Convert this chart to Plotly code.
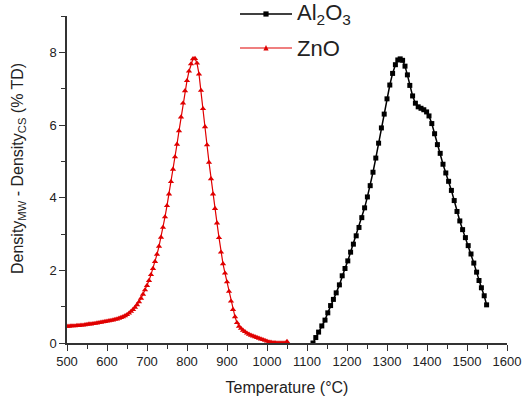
import plotly.graph_objects as go

# ZnO series (temperature in °C, density difference in % TD)
zno_t = [500, 505, 510, 515, 520, 525, 530, 535, 540, 545, 550, 555, 560, 565, 570, 575, 580, 585, 590, 595,
         600, 605, 610, 615, 620, 625, 630, 635, 640, 645, 650, 655, 660, 665, 670, 675, 680, 685, 690, 695,
         700, 705, 710, 715, 720, 725, 730, 735, 740, 745, 750, 755, 760, 765, 770, 775, 780, 785, 790, 795,
         800, 805, 810, 815, 820, 825, 830, 835, 840, 845, 850, 855, 860, 865, 870, 875, 880, 885, 890, 895,
         900, 905, 910, 915, 920, 925, 930, 935, 940, 945, 950, 955, 960, 965, 970, 975, 980, 985, 990, 995,
         1000, 1005, 1010, 1015, 1020, 1025, 1030, 1035, 1040, 1045, 1050]
zno_d = [0.46, 0.46, 0.47, 0.47, 0.47, 0.48, 0.48, 0.49, 0.49, 0.50, 0.51, 0.52, 0.52, 0.53, 0.54, 0.55, 0.56, 0.57, 0.58, 0.59,
         0.60, 0.61, 0.62, 0.63, 0.65, 0.66, 0.68, 0.70, 0.72, 0.75, 0.78, 0.82, 0.87, 0.92, 0.98, 1.05, 1.13, 1.23, 1.34, 1.46,
         1.58, 1.72, 1.88, 2.05, 2.24, 2.44, 2.66, 2.91, 3.18, 3.47, 3.78, 4.10, 4.44, 4.78, 5.12, 5.47, 5.84, 6.22, 6.60, 6.94,
         7.22, 7.48, 7.68, 7.82, 7.83, 7.70, 7.40, 6.95, 6.45, 5.95, 5.45, 4.97, 4.52, 4.10, 3.70, 3.30, 2.90, 2.50, 2.18, 1.92,
         1.68, 1.42, 1.15, 0.92, 0.72, 0.56, 0.46, 0.40, 0.35, 0.31, 0.27, 0.24, 0.21, 0.19, 0.17, 0.15, 0.13, 0.11, 0.09, 0.07,
         0.05, 0.03, 0.02, 0.01, 0.01, 0.00, 0.00, 0.00, 0.00, 0.00, 0.04]

# Al2O3 series
al_t = [1115, 1122, 1129, 1137, 1145, 1152, 1159, 1166, 1173, 1181, 1188, 1195, 1202, 1209, 1216, 1223, 1230, 1237,
        1244, 1251, 1258, 1265, 1272, 1279, 1286, 1293, 1300, 1307, 1314, 1321, 1327, 1333, 1339, 1345, 1351, 1357,
        1364, 1371, 1378, 1385, 1392, 1399, 1405, 1412, 1419, 1426, 1433, 1440, 1447, 1454, 1461, 1468, 1475, 1482,
        1489, 1496, 1503, 1510, 1517, 1524, 1530, 1536, 1543, 1549]
al_d = [0.00, 0.15, 0.30, 0.47, 0.63, 0.83, 1.03, 1.20, 1.38, 1.60, 1.85, 2.05, 2.26, 2.50, 2.72, 2.95, 3.18, 3.45,
        3.72, 4.02, 4.33, 4.70, 5.09, 5.50, 5.92, 6.30, 6.72, 7.10, 7.42, 7.66, 7.79, 7.82, 7.78, 7.62, 7.38, 7.09,
        6.80, 6.60, 6.50, 6.46, 6.42, 6.36, 6.25, 6.04, 5.76, 5.46, 5.22, 4.92, 4.68, 4.45, 4.20, 3.92, 3.62, 3.36,
        3.12, 2.90, 2.68, 2.45, 2.20, 1.95, 1.72, 1.52, 1.30, 1.05]

x_ticks = [500, 600, 700, 800, 900, 1000, 1100, 1200, 1300, 1400, 1500, 1600]
y_ticks = [0, 2, 4, 6, 8]

series_names = ["Al<sub>2</sub>O<sub>3</sub>", "ZnO"]
series_colors = ["black", "#e00000"]

FONT = "Arial, Liberation Sans, sans-serif"
W, H = 523, 401
ML, MR, MT, MB = 67, 16, 16, 58
PW, PH = W - ML - MR, H - MT - MB


def px_to_paper(px, py):
    return (px - ML) / PW, (H - MB - py) / PH


fig = go.Figure()
fig.add_trace(go.Scatter(
    x=al_t, y=al_d, mode="lines+markers", name=series_names[0],
    line=dict(color=series_colors[0], width=1.5),
    marker=dict(symbol="square", size=5, color=series_colors[0]),
    showlegend=False,
))
fig.add_trace(go.Scatter(
    x=zno_t, y=zno_d, mode="lines+markers", name=series_names[1],
    line=dict(color=series_colors[1], width=1.2),
    marker=dict(symbol="triangle-up", size=5.5, color=series_colors[1]),
    showlegend=False,
))

axis_common = dict(
    showline=True, linecolor="#333", linewidth=1.5, mirror=False,
    showgrid=False, zeroline=False,
    ticks="outside", ticklen=6, tickwidth=1.2, tickcolor="#333",
    tickfont=dict(family=FONT, size=13, color="#222"),
)

fig.update_xaxes(
    range=[500, 1600], tickvals=x_ticks, ticktext=[str(v) for v in x_ticks],
    minor=dict(dtick=50, tick0=500, ticks="outside", ticklen=4, tickwidth=1.2, tickcolor="#333"),
    title=dict(text="Temperature (°C)", font=dict(family=FONT, size=16, color="#222"), standoff=13),
    **axis_common,
)
fig.update_yaxes(
    range=[0, 9], tickvals=y_ticks, ticktext=[str(v) for v in y_ticks],
    minor=dict(dtick=1, tick0=0, ticks="outside", ticklen=4, tickwidth=1.2, tickcolor="#333"),
    **axis_common,
)

shapes = []
annotations = []

# Y-axis title (placed like the original, slightly above the plot centre)
ytx, yty = px_to_paper(18, 169)
annotations.append(dict(text="Density<sub>MW</sub> - Density<sub>CS</sub> (% TD)",
                        xref="paper", yref="paper", x=ytx, y=yty, textangle=-90,
                        xanchor="center", yanchor="middle", showarrow=False,
                        font=dict(family=FONT, size=16, color="#222")))

# Manual legend (long line samples like the original)
legend_rows_y = [14, 48]
for i, (name, col) in enumerate(zip(series_names, series_colors)):
    yrow = legend_rows_y[i]
    x0, y0 = px_to_paper(240, yrow)
    x1, _ = px_to_paper(292, yrow)
    shapes.append(dict(type="line", xref="paper", yref="paper", x0=x0, x1=x1, y0=y0, y1=y0,
                       line=dict(color=col, width=1.5 if i == 0 else 1.2)))
    cx, cy = px_to_paper(266, yrow)
    dx, dy = 2.6 / PW, 2.6 / PH
    if i == 0:
        shapes.append(dict(type="rect", xref="paper", yref="paper",
                           x0=cx - dx, x1=cx + dx, y0=cy - dy, y1=cy + dy,
                           fillcolor=col, line=dict(width=0)))
    else:
        shapes.append(dict(type="path", xref="paper", yref="paper",
                           path=f"M {cx - dx},{cy - dy} L {cx + dx},{cy - dy} L {cx},{cy + dy * 1.2} Z",
                           fillcolor=col, line=dict(width=0)))
    tx, ty = px_to_paper(295, yrow)
    annotations.append(dict(text=name, xref="paper", yref="paper", x=tx, y=ty,
                            xanchor="left", yanchor="middle", showarrow=False,
                            font=dict(family=FONT, size=22, color="#222")))

fig.update_layout(
    width=W, height=H,
    margin=dict(l=ML, r=MR, t=MT, b=MB, autoexpand=False),
    paper_bgcolor="white", plot_bgcolor="white",
    showlegend=False,
    shapes=shapes,
    annotations=annotations,
)

fig.write_html("out.html", config={"displayModeBar": False},
               post_script="document.body.style.margin='0';document.body.style.padding='0';")
